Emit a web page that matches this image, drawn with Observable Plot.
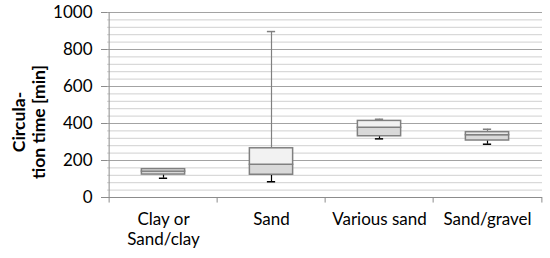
<!DOCTYPE html>
<html>
<head>
<meta charset="utf-8">
<script src="https://cdn.jsdelivr.net/npm/d3@7"></script>
<script src="https://cdn.jsdelivr.net/npm/@observablehq/plot@0.6"></script>
<style>
  html, body { margin: 0; padding: 0; background: #fff; }
</style>
</head>
<body>
<div id="chart"></div>
<script>
const categories = ["Clay or\nSand/clay", "Sand", "Various sand", "Sand/gravel"];
const minValues = [104, 85, 317, 288];
const q1Values = [124, 123, 331, 308];
const medianValues = [140, 177, 377, 337];
const q3Values = [153, 266, 414, 353];
const maxValues = [155, 897, 423, 369];
const majorTicks = [0, 200, 400, 600, 800, 1000];
const minorTicks = d3.range(40, 1000, 40).filter(v => v % 200 !== 0);
const yTitle = "Circula-\ntion time [min]";

const data = categories.map((cat, i) => ({
  cat, min: minValues[i], q1: q1Values[i], med: medianValues[i], q3: q3Values[i], max: maxValues[i]
}));

const width = 550, height = 258;
const mL = 107, mR = 8, mT = 12, mB = 61;
const bw = (width - mL - mR) / categories.length;
const boxInset = (bw - 44) / 2;
const capInset = (bw - 9) / 2;
const axisColor = "#8c8c8c";

const chart = Plot.plot({
  width, height,
  marginLeft: mL, marginRight: mR, marginTop: mT, marginBottom: mB,
  style: { fontFamily: "Lato, sans-serif", fontSize: "17px", color: "#000", background: "#fff" },
  x: { domain: categories, padding: 0, axis: null, label: null },
  y: { domain: [0, 1000], axis: null, label: null },
  marks: [
    Plot.ruleY(minorTicks, { stroke: "#d0d0d0" }),
    Plot.ruleY(majorTicks.filter(v => v > 0), { stroke: "#a3a3a3" }),
    Plot.ruleY([0], { stroke: axisColor }),
    Plot.ruleX([categories[0]], { dx: -bw / 2, stroke: axisColor }),
    Plot.ruleX(categories, { dx: -bw / 2, y1: 0, y2: -30, stroke: axisColor, clip: false }),
    Plot.ruleX([categories[categories.length - 1]], { dx: bw / 2, y1: 0, y2: -30, stroke: axisColor }),
    Plot.axisY({ ticks: majorTicks, tickFormat: d => String(d), tickSize: 6, tickPadding: 9, stroke: axisColor, fill: "#000", fontSize: 17, label: null }),
    Plot.axisX({ tickSize: 0, tickPadding: 13, fill: "#000", fontSize: 17, lineHeight: 1.2, label: null }),
    Plot.ruleX(data, { x: "cat", y1: "q3", y2: "max", stroke: "#808080", strokeWidth: 1.2 }),
    Plot.ruleX(data, { x: "cat", y1: "min", y2: "q1", stroke: "#000", strokeWidth: 1.2 }),
    Plot.tickY(data, { x: "cat", y: "max", stroke: "#808080", strokeWidth: 1.5, insetLeft: capInset, insetRight: capInset }),
    Plot.tickY(data, { x: "cat", y: "min", stroke: "#000", strokeWidth: 1.5, insetLeft: capInset, insetRight: capInset }),
    Plot.barY(data, { x: "cat", y1: "q1", y2: "med", fill: "#d9d9d9", stroke: "#808080", strokeWidth: 1.5, insetLeft: boxInset, insetRight: boxInset }),
    Plot.barY(data, { x: "cat", y1: "med", y2: "q3", fill: "#f2f2f2", stroke: "#808080", strokeWidth: 1.5, insetLeft: boxInset, insetRight: boxInset }),
    Plot.text([yTitle], { frameAnchor: "left", rotate: -90, dx: -79, dy: 17, fontWeight: "bold", fontSize: 17.5, lineHeight: 1.15, textAnchor: "middle", fill: "#000" })
  ]
});
document.getElementById("chart").appendChild(chart);
</script>
</body>
</html>
